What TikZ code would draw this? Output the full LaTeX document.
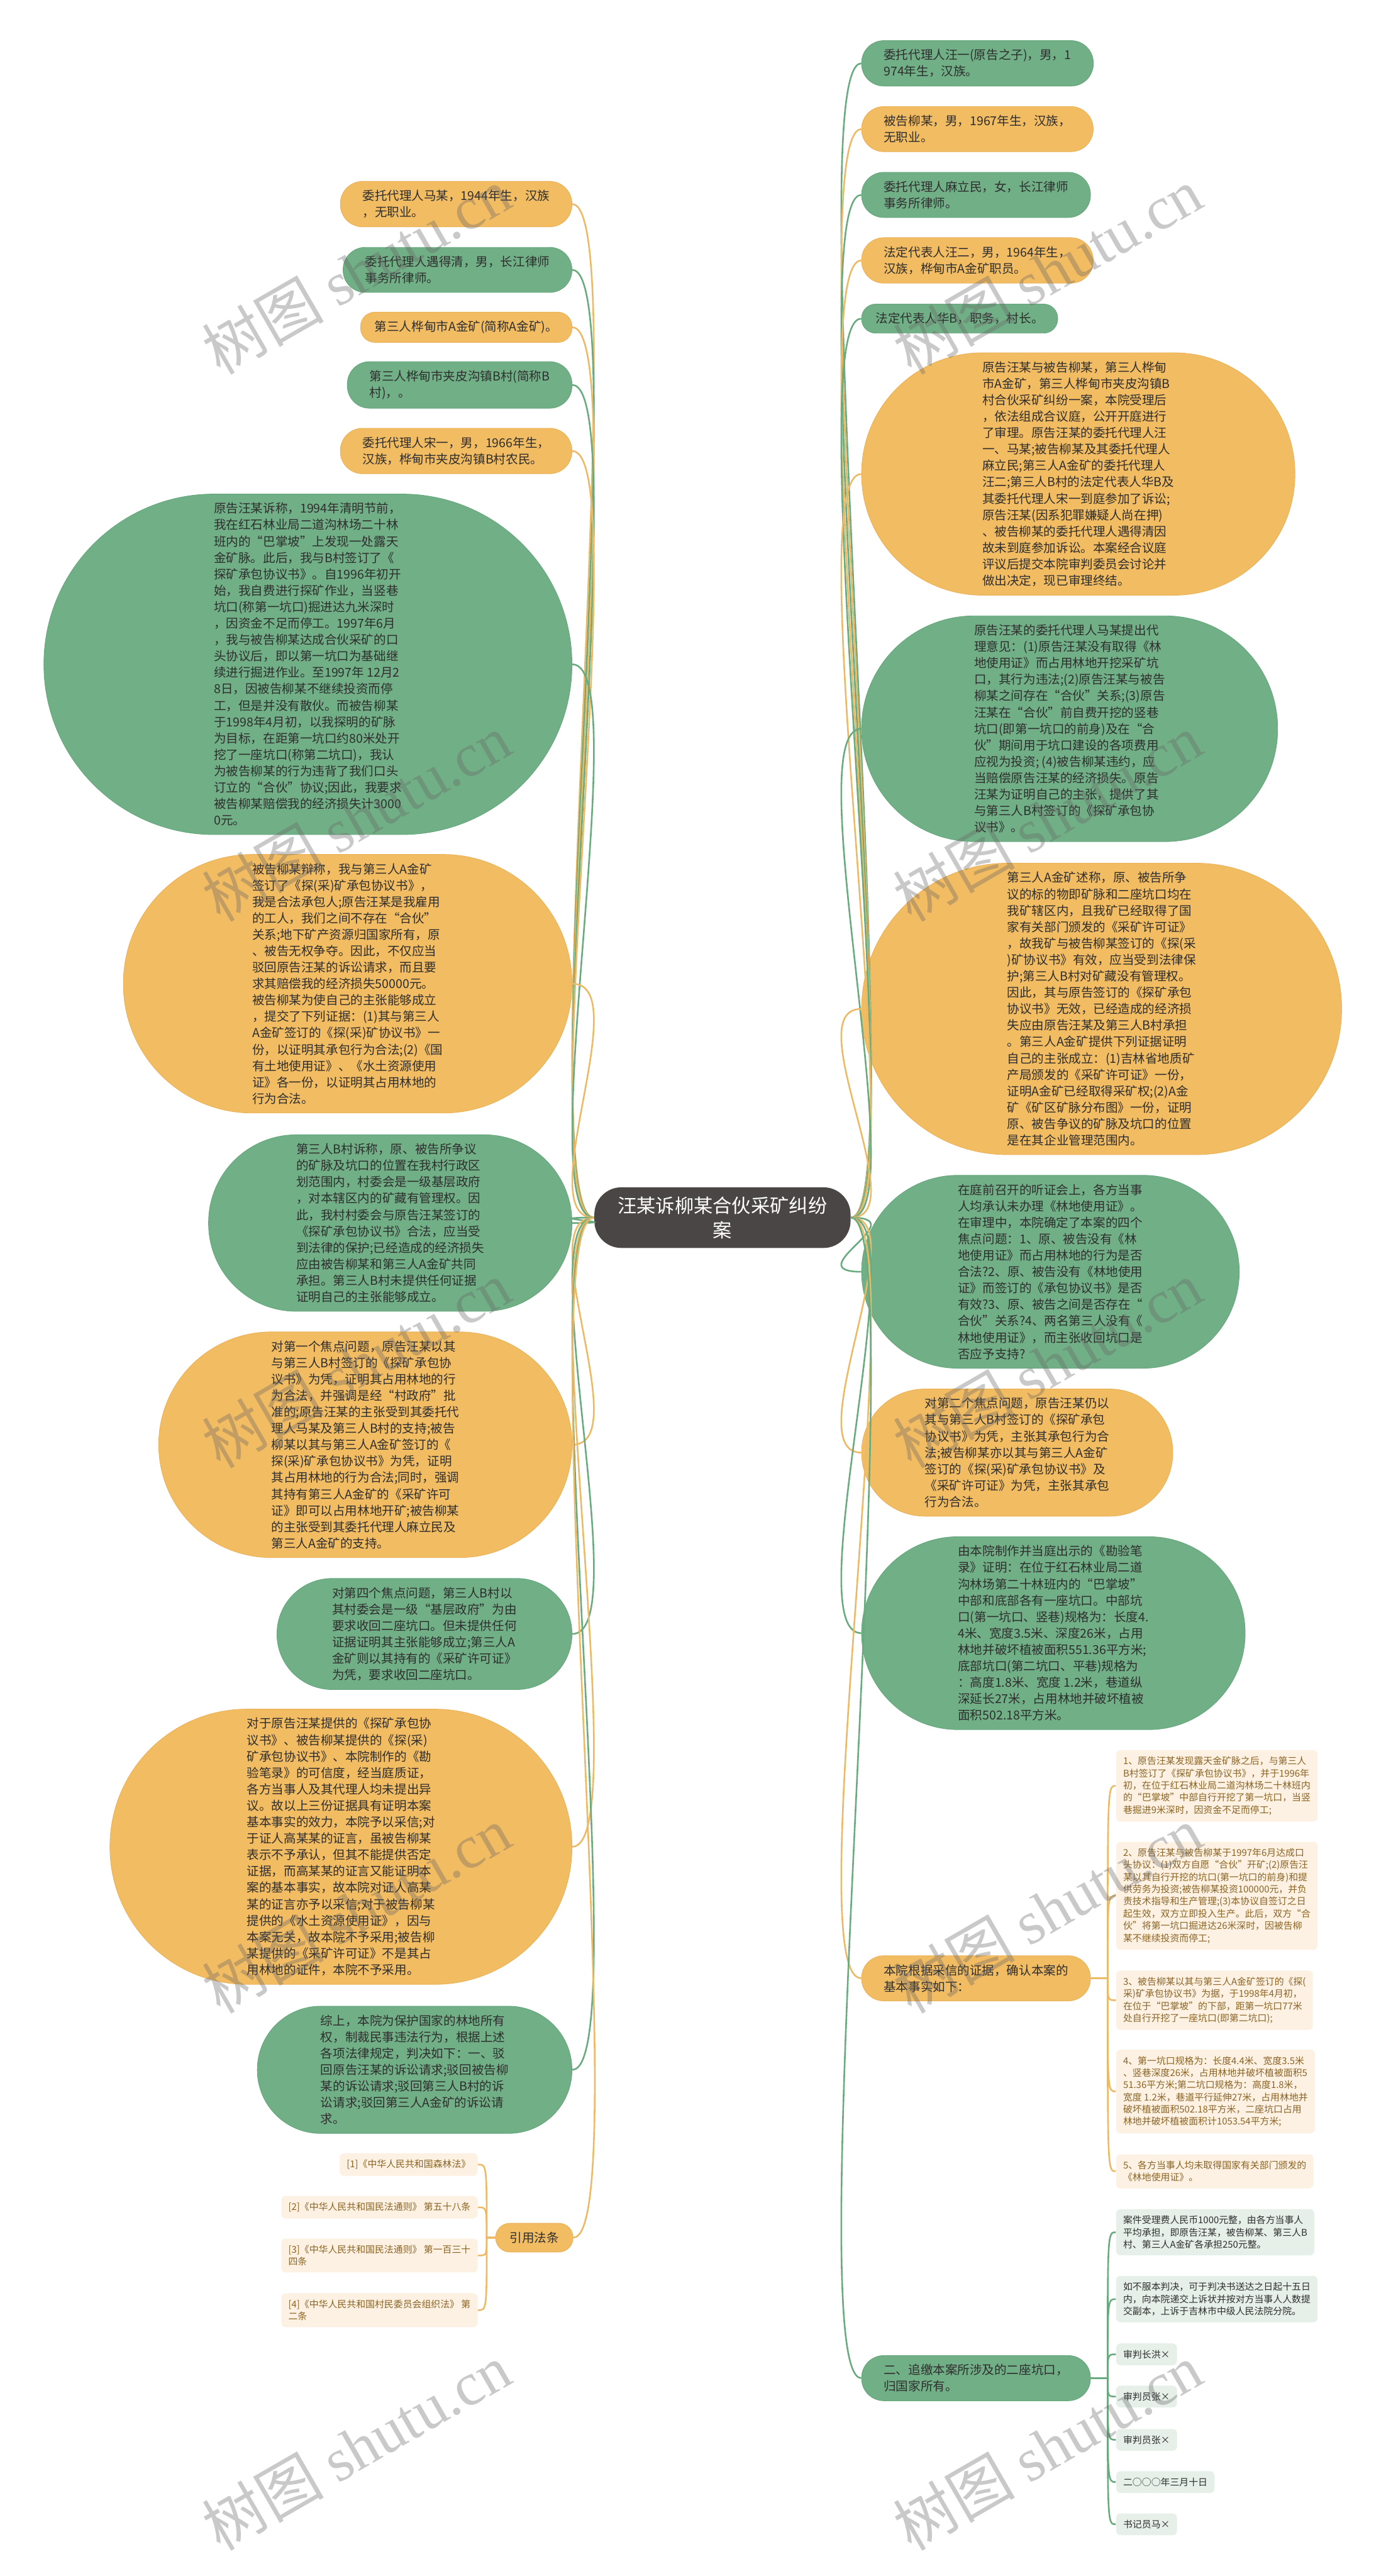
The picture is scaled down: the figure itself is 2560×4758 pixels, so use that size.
\documentclass[tikz,border=0pt]{standalone}
\usepackage{fontspec}
\setmainfont{Noto Sans CJK SC}
\newfontfamily\wmfont{Liberation Serif}
\definecolor{leaf}{HTML}{71AF86}
\definecolor{leafedge}{HTML}{66A67C}
\definecolor{sand}{HTML}{F2BC63}
\definecolor{sandedge}{HTML}{E9B158}
\definecolor{leafline}{HTML}{6AAA7F}
\definecolor{sandline}{HTML}{EDB964}
\definecolor{slate}{HTML}{4A4646}
\definecolor{ink}{HTML}{2E2E2E}
\definecolor{peach}{HTML}{FDF1E3}
\definecolor{mint}{HTML}{E6F0E8}
\definecolor{bark}{HTML}{8A6424}

\begin{document}
\begin{tikzpicture}[
  x=0.01cm, y=-0.01cm,
  txt/.style={font=\fontsize{6.46}{8.62}\selectfont, text=ink, align=left, inner ysep=0.16cm},
  gbox/.style={txt, fill=leaf, draw=leafedge, line width=0.01cm},
  obox/.style={txt, fill=sand, draw=sandedge, line width=0.01cm},
  pill/.style={inner xsep=#1, rounded corners=#1, minimum height=2*#1},
  root/.style={fill=slate, text=white, font=\fontsize{10}{13}\selectfont, align=center,
    rounded corners=0.5cm, minimum width=4.73cm, minimum height=1.12cm},
  leafitem/.style={font=\fontsize{4.92}{6.4}\selectfont, align=left, inner xsep=0.13cm,
    inner ysep=0.12cm, rounded corners=0.08cm, fill=mint, text=ink, anchor=west},
  sanditem/.style={leafitem, fill=peach, text=bark},
  gline/.style={leafline, line width=0.03cm},
  oline/.style={sandline, line width=0.03cm},
  wm/.style={rotate=30, text=black!60, opacity=0.35, font=\fontsize{32}{32}\selectfont}
]
  \fill[white] (0,0) rectangle (2560,4758);
  \useasboundingbox (0,0) rectangle (2560,4758);

  \node[root] (root) at (1334.5,2249) {汪某诉柳某合伙采矿纠纷\\案};

  \node[gbox, pill=0.41cm, anchor=west] (wangyi) at (1591,117) {委托代理人汪一(原告之子)，男，1\\974年生，汉族。};
  \node[obox, pill=0.41cm, anchor=west] (liumou) at (1591,238.5) {被告柳某，男，1967年生，汉族，\\无职业。};
  \node[gbox, pill=0.41cm, anchor=west] (malimin) at (1591,360) {委托代理人麻立民，女，长江律师\\事务所律师。};
  \node[obox, pill=0.41cm, anchor=west] (wanger) at (1591,481) {法定代表人汪二，男，1964年生，\\汉族，桦甸市A金矿职员。};
  \node[gbox, pill=0.26cm, anchor=west] (huab) at (1591,588.5) {法定代表人华B，职务，村长。};
  \node[obox, pill=2.23cm, anchor=west] (summary) at (1591,875.5) {原告汪某与被告柳某，第三人桦甸\\市A金矿，第三人桦甸市夹皮沟镇B\\村合伙采矿纠纷一案，本院受理后\\，依法组成合议庭，公开开庭进行\\了审理。原告汪某的委托代理人汪\\一、马某;被告柳某及其委托代理人\\麻立民;第三人A金矿的委托代理人\\汪二;第三人B村的法定代表人华B及\\其委托代理人宋一到庭参加了诉讼;\\原告汪某(因系犯罪嫌疑人尚在押)\\、被告柳某的委托代理人遇得清因\\故未到庭参加诉讼。本案经合议庭\\评议后提交本院审判委员会讨论并\\做出决定，现已审理终结。};
  \node[gbox, pill=2.08cm, anchor=west] (opinion) at (1591,1346) {原告汪某的委托代理人马某提出代\\理意见：(1)原告汪某没有取得《林\\地使用证》而占用林地开挖采矿坑\\口，其行为违法;(2)原告汪某与被告\\柳某之间存在“合伙”关系;(3)原告\\汪某在“合伙”前自费开挖的竖巷\\坑口(即第一坑口的前身)及在“合\\伙”期间用于坑口建设的各项费用\\应视为投资; (4)被告柳某违约，应\\当赔偿原告汪某的经济损失。原告\\汪某为证明自己的主张，提供了其\\与第三人B村签订的《探矿承包协\\议书》。};
  \node[obox, pill=2.69cm, anchor=west] (aclaim) at (1591,1863.5) {第三人A金矿述称，原、被告所争\\议的标的物即矿脉和二座坑口均在\\我矿辖区内，且我矿已经取得了国\\家有关部门颁发的《采矿许可证》\\，故我矿与被告柳某签订的《探(采\\)矿协议书》有效，应当受到法律保\\护;第三人B村对矿藏没有管理权。\\因此，其与原告签订的《探矿承包\\协议书》无效，已经造成的经济损\\失应由原告汪某及第三人B村承担\\。第三人A金矿提供下列证据证明\\自己的主张成立：(1)吉林省地质矿\\产局颁发的《采矿许可证》一份，\\证明A金矿已经取得采矿权;(2)A金\\矿《矿区矿脉分布图》一份，证明\\原、被告争议的矿脉及坑口的位置\\是在其企业管理范围内。};
  \node[gbox, pill=1.78cm, anchor=west] (hearing) at (1591,2349) {在庭前召开的听证会上，各方当事\\人均承认未办理《林地使用证》。\\在审理中，本院确定了本案的四个\\焦点问题：1、原、被告没有《林\\地使用证》而占用林地的行为是否\\合法?2、原、被告没有《林地使用\\证》而签订的《承包协议书》是否\\有效?3、原、被告之间是否存在“\\合伙”关系?4、两名第三人没有《\\林地使用证》，而主张收回坑口是\\否应予支持?};
  \node[obox, pill=1.17cm, anchor=west] (focustwo) at (1591,2683) {对第二个焦点问题，原告汪某仍以\\其与第三人B村签订的《探矿承包\\协议书》为凭，主张其承包行为合\\法;被告柳某亦以其与第三人A金矿\\签订的《探(采)矿承包协议书》及\\《采矿许可证》为凭，主张其承包\\行为合法。};
  \node[gbox, pill=1.78cm, anchor=west] (survey) at (1591,3016.5) {由本院制作并当庭出示的《勘验笔\\录》证明：在位于红石林业局二道\\沟林场第二十林班内的“巴掌坡”\\中部和底部各有一座坑口。中部坑\\口(第一坑口、竖巷)规格为：长度4.\\4米、宽度3.5米、深度26米，占用\\林地并破坏植被面积551.36平方米;\\底部坑口(第二坑口、平巷)规格为\\：高度1.8米、宽度 1.2米，巷道纵\\深延长27米，占用林地并破坏植被\\面积502.18平方米。};
  \node[obox, pill=0.41cm, anchor=west] (facts) at (1591,3654) {本院根据采信的证据，确认本案的\\基本事实如下：};
  \node[gbox, pill=0.41cm, anchor=west] (recover) at (1591,4392.5) {二、追缴本案所涉及的二座坑口，\\归国家所有。};

  \node[obox, pill=0.41cm, anchor=east] (mamou) at (1057,377) {委托代理人马某，1944年生，汉族\\，无职业。};
  \node[gbox, pill=0.41cm, anchor=east] (yudeqing) at (1057,498.5) {委托代理人遇得清，男，长江律师\\事务所律师。};
  \node[obox, pill=0.26cm, anchor=east] (amine) at (1057,604.5) {第三人桦甸市A金矿(简称A金矿)。};
  \node[gbox, pill=0.41cm, anchor=east] (bvillage) at (1057,711) {第三人桦甸市夹皮沟镇B村(简称B\\村)，。};
  \node[obox, pill=0.41cm, anchor=east] (songyi) at (1057,833) {委托代理人宋一，男，1966年生，\\汉族，桦甸市夹皮沟镇B村农民。};
  \node[gbox, pill=3.14cm, anchor=east] (wclaim) at (1057,1227) {原告汪某诉称，1994年清明节前，\\我在红石林业局二道沟林场二十林\\班内的“巴掌坡”上发现一处露天\\金矿脉。此后，我与B村签订了《\\探矿承包协议书》。自1996年初开\\始，我自费进行探矿作业，当竖巷\\坑口(称第一坑口)掘进达九米深时\\，因资金不足而停工。1997年6月\\，我与被告柳某达成合伙采矿的口\\头协议后，即以第一坑口为基础继\\续进行掘进作业。至1997年 12月2\\8日，因被告柳某不继续投资而停\\工，但是并没有散伙。而被告柳某\\于1998年4月初，以我探明的矿脉\\为目标，在距第一坑口约80米处开\\挖了一座坑口(称第二坑口)，我认\\为被告柳某的行为违背了我们口头\\订立的“合伙”协议;因此，我要求\\被告柳某赔偿我的经济损失计3000\\0元。};
  \node[obox, pill=2.38cm, anchor=east] (defense) at (1057,1817) {被告柳某辩称，我与第三人A金矿\\签订了《探(采)矿承包协议书》，\\我是合法承包人;原告汪某是我雇用\\的工人，我们之间不存在“合伙”\\关系;地下矿产资源归国家所有，原\\、被告无权争夺。因此，不仅应当\\驳回原告汪某的诉讼请求，而且要\\求其赔偿我的经济损失50000元。\\被告柳某为使自己的主张能够成立\\，提交了下列证据：(1)其与第三人\\A金矿签订的《探(采)矿协议书》一\\份，以证明其承包行为合法;(2)《国\\有土地使用证》、《水土资源使用\\证》各一份，以证明其占用林地的\\行为合法。};
  \node[gbox, pill=1.62cm, anchor=east] (bclaim) at (1057,2259) {第三人B村诉称，原、被告所争议\\的矿脉及坑口的位置在我村行政区\\划范围内，村委会是一级基层政府\\，对本辖区内的矿藏有管理权。因\\此，我村村委会与原告汪某签订的\\《探矿承包协议书》合法，应当受\\到法律的保护;已经造成的经济损失\\应由被告柳某和第三人A金矿共同\\承担。第三人B村未提供任何证据\\证明自己的主张能够成立。};
  \node[obox, pill=2.08cm, anchor=east] (focusone) at (1057,2668.5) {对第一个焦点问题，原告汪某以其\\与第三人B村签订的《探矿承包协\\议书》为凭，证明其占用林地的行\\为合法，并强调是经“村政府”批\\准的;原告汪某的主张受到其委托代\\理人马某及第三人B村的支持;被告\\柳某以其与第三人A金矿签订的《\\探(采)矿承包协议书》为凭，证明\\其占用林地的行为合法;同时，强调\\其持有第三人A金矿的《采矿许可\\证》即可以占用林地开矿;被告柳某\\的主张受到其委托代理人麻立民及\\第三人A金矿的支持。};
  \node[gbox, pill=1.02cm, anchor=east] (focusfour) at (1057,3018) {对第四个焦点问题，第三人B村以\\其村委会是一级“基层政府”为由\\要求收回二座坑口。但未提供任何\\证据证明其主张能够成立;第三人A\\金矿则以其持有的《采矿许可证》\\为凭，要求收回二座坑口。};
  \node[obox, pill=2.53cm, anchor=east] (weigh) at (1057,3411) {对于原告汪某提供的《探矿承包协\\议书》、被告柳某提供的《探(采)\\矿承包协议书》、本院制作的《勘\\验笔录》的可信度，经当庭质证，\\各方当事人及其代理人均未提出异\\议。故以上三份证据具有证明本案\\基本事实的效力，本院予以采信;对\\于证人高某某的证言，虽被告柳某\\表示不予承认，但其不能提供否定\\证据，而高某某的证言又能证明本\\案的基本事实，故本院对证人高某\\某的证言亦予以采信;对于被告柳某\\提供的《水土资源使用证》，因与\\本案无关，故本院不予采用;被告柳\\某提供的《采矿许可证》不是其占\\用林地的证件，本院不予采用。};
  \node[gbox, pill=1.17cm, anchor=east] (verdict) at (1057,3823) {综上，本院为保护国家的林地所有\\权，制裁民事违法行为，根据上述\\各项法律规定，判决如下：一、驳\\回原告汪某的诉讼请求;驳回被告柳\\某的诉讼请求;驳回第三人B村的诉\\讼请求;驳回第三人A金矿的诉讼请\\求。};
  \node[obox, pill=0.26cm, anchor=east] (laws) at (1059,4133) {引用法条};

  \node[sanditem] (fact1) at (2061,3298.5) {1、原告汪某发现露天金矿脉之后，与第三人\\B村签订了《探矿承包协议书》，并于1996年\\初，在位于红石林业局二道沟林场二十林班内\\的“巴掌坡”中部自行开挖了第一坑口，当竖\\巷掘进9米深时，因资金不足而停工;};
  \node[sanditem] (fact2) at (2061,3501.5) {2、原告汪某与被告柳某于1997年6月达成口\\头协议：(1)双方自愿“合伙”开矿;(2)原告汪\\某以其自行开挖的坑口(第一坑口的前身)和提\\供劳务为投资;被告柳某投资100000元，并负\\责技术指导和生产管理;(3)本协议自签订之日\\起生效，双方立即投入生产。此后，双方“合\\伙”将第一坑口掘进达26米深时，因被告柳\\某不继续投资而停工;};
  \node[sanditem] (fact3) at (2061,3694.5) {3、被告柳某以其与第三人A金矿签订的《探(\\采)矿承包协议书》为据，于1998年4月初，\\在位于“巴掌坡”的下部，距第一坑口77米\\处自行开挖了一座坑口(即第二坑口);};
  \node[sanditem] (fact4) at (2061,3863) {4、第一坑口规格为：长度4.4米、宽度3.5米\\、竖巷深度26米，占用林地并破坏植被面积5\\51.36平方米;第二坑口规格为：高度1.8米，\\宽度 1.2米，巷道平行延伸27米，占用林地并\\破坏植被面积502.18平方米，二座坑口占用\\林地并破坏植被面积计1053.54平方米;};
  \node[sanditem] (fact5) at (2061,4010.5) {5、各方当事人均未取得国家有关部门颁发的\\《林地使用证》。};

  \node[leafitem] (fee) at (2061,4123) {案件受理费人民币1000元整，由各方当事人\\平均承担，即原告汪某，被告柳某、第三人B\\村、第三人A金矿各承担250元整。};
  \node[leafitem] (appeal) at (2061,4246.5) {如不服本判决，可于判决书送达之日起十五日\\内，向本院递交上诉状并按对方当事人人数提\\交副本，上诉于吉林市中级人民法院分院。};
  \node[leafitem] (judge) at (2061,4348.5) {审判长洪×};
  \node[leafitem] (juror1) at (2061,4426.5) {审判员张×};
  \node[leafitem] (juror2) at (2061,4506.5) {审判员张×};
  \node[leafitem] (date) at (2061,4584.5) {二○○○年三月十日};
  \node[leafitem] (clerk) at (2061,4662.5) {书记员马×};

  \node[sanditem, anchor=east] (law1) at (883,3998) {[1]《中华人民共和国森林法》};
  \node[sanditem, anchor=east] (law2) at (883,4077) {[2]《中华人民共和国民法通则》 第五十八条};
  \node[sanditem, anchor=east] (law3) at (883,4166) {[3]《中华人民共和国民法通则》 第一百三十\\四条};
  \node[sanditem, anchor=east] (law4) at (883,4267) {[4]《中华人民共和国村民委员会组织法》 第\\二条};

  \draw[gline] (root.east) .. controls +(120,0) and +(-120,0) .. (wangyi.west);
  \draw[oline] (root.east) .. controls +(120,0) and +(-120,0) .. (liumou.west);
  \draw[gline] (root.east) .. controls +(120,0) and +(-120,0) .. (malimin.west);
  \draw[oline] (root.east) .. controls +(120,0) and +(-120,0) .. (wanger.west);
  \draw[gline] (root.east) .. controls +(120,0) and +(-120,0) .. (huab.west);
  \draw[oline] (root.east) .. controls +(120,0) and +(-120,0) .. (summary.west);
  \draw[gline] (root.east) .. controls +(120,0) and +(-120,0) .. (opinion.west);
  \draw[oline] (root.east) .. controls +(120,0) and +(-120,0) .. (aclaim.west);
  \draw[gline] (root.east) .. controls +(120,0) and +(-120,0) .. (hearing.west);
  \draw[oline] (root.east) .. controls +(120,0) and +(-120,0) .. (focustwo.west);
  \draw[gline] (root.east) .. controls +(120,0) and +(-120,0) .. (survey.west);
  \draw[oline] (root.east) .. controls +(120,0) and +(-120,0) .. (facts.west);
  \draw[gline] (root.east) .. controls +(120,0) and +(-120,0) .. (recover.west);

  \draw[oline] (root.west) .. controls +(-120,0) and +(120,0) .. (mamou.east);
  \draw[gline] (root.west) .. controls +(-120,0) and +(120,0) .. (yudeqing.east);
  \draw[oline] (root.west) .. controls +(-120,0) and +(120,0) .. (amine.east);
  \draw[gline] (root.west) .. controls +(-120,0) and +(120,0) .. (bvillage.east);
  \draw[oline] (root.west) .. controls +(-120,0) and +(120,0) .. (songyi.east);
  \draw[gline] (root.west) .. controls +(-120,0) and +(120,0) .. (wclaim.east);
  \draw[oline] (root.west) .. controls +(-120,0) and +(120,0) .. (defense.east);
  \draw[gline] (root.west) .. controls +(-120,0) and +(120,0) .. (bclaim.east);
  \draw[oline] (root.west) .. controls +(-120,0) and +(120,0) .. (focusone.east);
  \draw[gline] (root.west) .. controls +(-120,0) and +(120,0) .. (focusfour.east);
  \draw[oline] (root.west) .. controls +(-120,0) and +(120,0) .. (weigh.east);
  \draw[gline] (root.west) .. controls +(-120,0) and +(120,0) .. (verdict.east);
  \draw[oline] (root.west) .. controls +(-120,0) and +(120,0) .. (laws.east);

  \coordinate (factsj) at (2046,3654);
  \draw[oline] (facts.east) -- (factsj) .. controls (factsj |- fact1.west) .. (fact1.west);
  \draw[oline] (facts.east) -- (factsj) .. controls (factsj |- fact2.west) .. (fact2.west);
  \draw[oline] (facts.east) -- (factsj) .. controls (factsj |- fact3.west) .. (fact3.west);
  \draw[oline] (facts.east) -- (factsj) .. controls (factsj |- fact4.west) .. (fact4.west);
  \draw[oline] (facts.east) -- (factsj) .. controls (factsj |- fact5.west) .. (fact5.west);

  \coordinate (recoverj) at (2046,4392.5);
  \draw[gline] (recover.east) -- (recoverj) .. controls (recoverj |- fee.west) .. (fee.west);
  \draw[gline] (recover.east) -- (recoverj) .. controls (recoverj |- appeal.west) .. (appeal.west);
  \draw[gline] (recover.east) -- (recoverj) .. controls (recoverj |- judge.west) .. (judge.west);
  \draw[gline] (recover.east) -- (recoverj) .. controls (recoverj |- juror1.west) .. (juror1.west);
  \draw[gline] (recover.east) -- (recoverj) .. controls (recoverj |- juror2.west) .. (juror2.west);
  \draw[gline] (recover.east) -- (recoverj) .. controls (recoverj |- date.west) .. (date.west);
  \draw[gline] (recover.east) -- (recoverj) .. controls (recoverj |- clerk.west) .. (clerk.west);

  \coordinate (lawsj) at (899,4133);
  \draw[oline] (laws.west) -- (lawsj) .. controls (lawsj |- law1.east) .. (law1.east);
  \draw[oline] (laws.west) -- (lawsj) .. controls (lawsj |- law2.east) .. (law2.east);
  \draw[oline] (laws.west) -- (lawsj) .. controls (lawsj |- law3.east) .. (law3.east);
  \draw[oline] (laws.west) -- (lawsj) .. controls (lawsj |- law4.east) .. (law4.east);

  \node[wm] (wm1) at (658,500) {树图 {\wmfont shutu.cn}};
  \node[wm] (wm2) at (1935,500) {树图 {\wmfont shutu.cn}};
  \node[wm] (wm3) at (658,1510) {树图 {\wmfont shutu.cn}};
  \node[wm] (wm4) at (1935,1510) {树图 {\wmfont shutu.cn}};
  \node[wm] (wm5) at (658,2520) {树图 {\wmfont shutu.cn}};
  \node[wm] (wm6) at (1935,2520) {树图 {\wmfont shutu.cn}};
  \node[wm] (wm7) at (658,3527) {树图 {\wmfont shutu.cn}};
  \node[wm] (wm8) at (1935,3527) {树图 {\wmfont shutu.cn}};
  \node[wm] (wm9) at (658,4519) {树图 {\wmfont shutu.cn}};
  \node[wm] (wm10) at (1935,4519) {树图 {\wmfont shutu.cn}};
\end{tikzpicture}
\end{document}
